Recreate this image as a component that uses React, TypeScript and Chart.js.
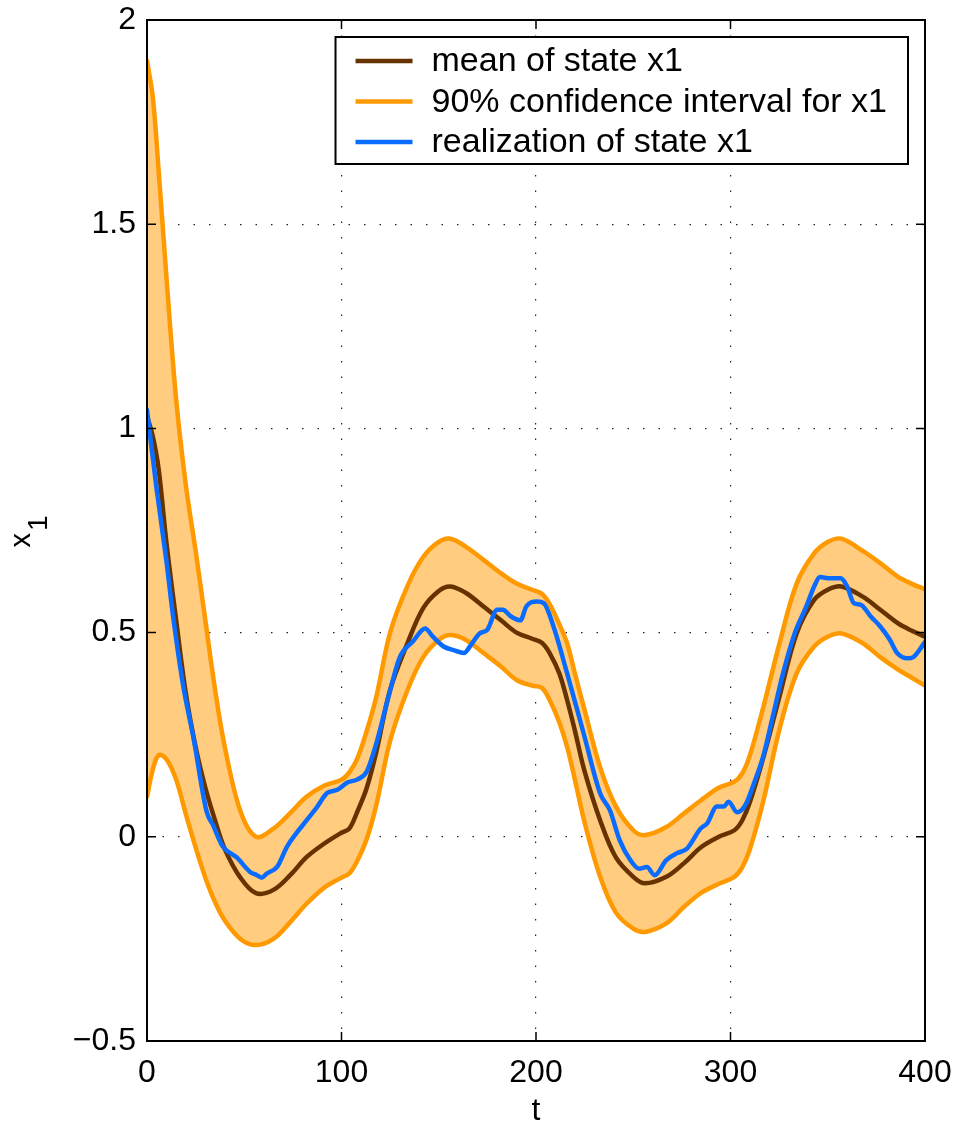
import React, { useEffect, useRef } from "react";
import { Chart, registerables } from "chart.js";

Chart.register(...registerables);

// time grid for mean and confidence band
const T_BAND = [
  0, 3, 6, 10, 15, 20, 25, 30, 35, 40,
  48, 56, 65, 74, 82, 91, 100, 104, 108, 113,
  118, 125, 134, 142, 150, 156, 164, 173, 182, 190,
  198, 203, 207, 212, 216, 220, 225, 233, 241, 250,
  256, 267, 276, 285, 294, 302, 306, 310, 317, 325,
  334, 343, 350, 357, 368, 377, 386, 393, 400,
];

const UPPER = [
  1.9, 1.81, 1.63, 1.37, 1.07, 0.86, 0.7, 0.53, 0.36, 0.22,
  0.063, 0.0, 0.02, 0.06, 0.098, 0.125, 0.14, 0.158, 0.19, 0.26,
  0.345, 0.5, 0.615, 0.685, 0.722, 0.73, 0.71, 0.678, 0.645, 0.62,
  0.605, 0.595, 0.57, 0.52, 0.474, 0.4, 0.31, 0.17, 0.075, 0.016,
  0.004, 0.024, 0.057, 0.09, 0.12, 0.135, 0.155, 0.2, 0.32, 0.47,
  0.62, 0.694, 0.722, 0.73, 0.7, 0.67, 0.637, 0.62, 0.606,
];

const MEAN = [
  1.03, 0.98, 0.9, 0.72, 0.53, 0.35, 0.22, 0.12, 0.04, -0.03,
  -0.1, -0.138, -0.13, -0.092, -0.05, -0.017, 0.01, 0.02, 0.06, 0.12,
  0.21, 0.36, 0.475, 0.56, 0.602, 0.613, 0.597, 0.564, 0.53, 0.5,
  0.485, 0.475, 0.45, 0.4, 0.335, 0.26, 0.16, 0.04, -0.05, -0.098,
  -0.114, -0.098, -0.065, -0.025, 0.0, 0.016, 0.04, 0.085, 0.196, 0.34,
  0.498, 0.58, 0.605, 0.613, 0.588, 0.556, 0.523, 0.505, 0.49,
];

const LOWER = [
  0.098, 0.165, 0.2, 0.19, 0.14, 0.055, -0.026, -0.1, -0.16, -0.205,
  -0.25, -0.265, -0.25, -0.207, -0.164, -0.125, -0.1, -0.09, -0.06, -0.005,
  0.08, 0.235, 0.36, 0.44, 0.482, 0.494, 0.482, 0.45, 0.417, 0.384,
  0.37, 0.365, 0.335, 0.28, 0.22, 0.14, 0.035, -0.098, -0.185, -0.225,
  -0.233, -0.212, -0.172, -0.137, -0.115, -0.098, -0.075, -0.03, 0.09, 0.26,
  0.4, 0.466, 0.49, 0.498, 0.474, 0.44, 0.41, 0.39, 0.37,
];

// realization of the state
const T_REAL = [
  0, 5, 10, 13.4, 18.6, 24, 30.6, 34, 39, 46,
  53, 56.5, 59, 61.6, 67, 72, 77, 82, 87, 92.6,
  97.8, 103, 108, 113, 118, 124, 130, 137, 143, 147,
  152.5, 157.7, 163, 166, 171, 175, 180, 183, 187, 192,
  195, 200.5, 204, 209, 216, 224.5, 233, 238, 243, 248.5,
  253, 257, 261, 267, 272.5, 277.6, 284.6, 288, 293, 296.6,
  299, 303.4, 307.7, 312, 317, 322, 327, 333, 339, 343,
  346, 351, 356.6, 360, 363.4, 367, 372, 377, 382, 385.7,
  391, 394, 400,
];

const REAL = [
  1.045, 0.85, 0.675, 0.54, 0.37, 0.24, 0.063, 0.028, -0.024, -0.05,
  -0.086, -0.094, -0.1, -0.09, -0.073, -0.024, 0.01, 0.04, 0.07, 0.107,
  0.115, 0.133, 0.14, 0.16, 0.23, 0.34, 0.44, 0.48, 0.51, 0.49,
  0.466, 0.457, 0.45, 0.466, 0.498, 0.507, 0.556, 0.556, 0.54, 0.53,
  0.564, 0.576, 0.572, 0.515, 0.4, 0.253, 0.106, 0.065, -0.008, -0.057,
  -0.078, -0.074, -0.094, -0.057, -0.04, -0.029, 0.02, 0.033, 0.074, 0.074,
  0.086, 0.06, 0.078, 0.13, 0.2, 0.3, 0.4, 0.498, 0.564, 0.613,
  0.636, 0.633, 0.633, 0.613, 0.572, 0.568, 0.54, 0.515, 0.482, 0.45,
  0.437, 0.44, 0.477,
];

const LEGEND_LABELS = [
  "mean of state x1",
  "90% confidence interval for x1",
  "realization of state x1",
];

const X_TICKS = [0, 100, 200, 300, 400];
const Y_TICKS = [-0.5, 0, 0.5, 1, 1.5, 2];
const X_TITLE = "t";
const Y_TITLE_MAIN = "x";
const Y_TITLE_SUB = "1";

const BROWN = "#663300";
const ORANGE = "#FF9900";
const FILL = "#FFCC80";
const BLUE = "#0A6CFF";
const FONT_FAMILY = '"Liberation Sans", Arial, Helvetica, sans-serif';

const toXY = (ts: number[], ys: number[]) => ts.map((t, i) => ({ x: t, y: ys[i] }));

const framePlugin = {
  id: "matlabFrame",
  afterDatasetsDraw(chart: any) {
    const { ctx, chartArea: a, scales } = chart;
    ctx.save();
    // inner tick marks
    ctx.strokeStyle = "#000";
    ctx.lineWidth = 1.5;
    const L = 9;
    scales.x.ticks.forEach((_t: any, i: number) => {
      const px = scales.x.getPixelForTick(i);
      ctx.beginPath();
      ctx.moveTo(px, a.bottom);
      ctx.lineTo(px, a.bottom - L);
      ctx.moveTo(px, a.top);
      ctx.lineTo(px, a.top + L);
      ctx.stroke();
    });
    scales.y.ticks.forEach((_t: any, i: number) => {
      const py = scales.y.getPixelForTick(i);
      ctx.beginPath();
      ctx.moveTo(a.left, py);
      ctx.lineTo(a.left + L, py);
      ctx.moveTo(a.right, py);
      ctx.lineTo(a.right - L, py);
      ctx.stroke();
    });
    // frame
    ctx.lineWidth = 2;
    ctx.strokeRect(a.left, a.top, a.right - a.left, a.bottom - a.top);

    // legend
    const entries = chart.data.datasets.filter((d: any) => d.legendText);
    ctx.font = `34px ${FONT_FAMILY}`;
    let maxW = 0;
    entries.forEach((d: any) => {
      maxW = Math.max(maxW, ctx.measureText(d.legendText).width);
    });
    const boxW = 96 + maxW + 21;
    const boxH = 127;
    const bx = a.right - 17 - boxW;
    const by = a.top + 17;
    ctx.fillStyle = "#fff";
    ctx.fillRect(bx, by, boxW, boxH);
    ctx.strokeStyle = "#000";
    ctx.lineWidth = 2;
    ctx.strokeRect(bx, by, boxW, boxH);
    entries.forEach((d: any, i: number) => {
      const ry = by + 24 + i * 40.5;
      ctx.strokeStyle = d.borderColor;
      ctx.lineWidth = 4.5;
      ctx.beginPath();
      ctx.moveTo(bx + 20, ry);
      ctx.lineTo(bx + 77, ry);
      ctx.stroke();
      ctx.fillStyle = "#000";
      ctx.textBaseline = "middle";
      ctx.textAlign = "left";
      ctx.fillText(d.legendText, bx + 96, ry + 1);
    });

    // y-axis title with subscript (rotated)
    const cy = (a.top + a.bottom) / 2;
    ctx.translate(30, cy + 17);
    ctx.rotate(-Math.PI / 2);
    ctx.fillStyle = "#000";
    ctx.textAlign = "left";
    ctx.textBaseline = "alphabetic";
    ctx.font = `29px ${FONT_FAMILY}`;
    ctx.fillText(Y_TITLE_MAIN, 0, 0);
    const w = ctx.measureText(Y_TITLE_MAIN).width;
    ctx.font = `28px ${FONT_FAMILY}`;
    ctx.fillText(Y_TITLE_SUB, w + 2, 17);
    ctx.restore();
  },
};

export default function App() {
  const canvasRef = useRef<HTMLCanvasElement | null>(null);

  useEffect(() => {
    const canvas = canvasRef.current;
    if (!canvas) return;
    const lineCommon = {
      pointRadius: 0,
      pointHoverRadius: 0,
      borderWidth: 4.5,
      tension: 0.35,
      borderCapStyle: "round" as const,
      borderJoinStyle: "round" as const,
    };
    const chart = new Chart(canvas, {
      type: "line",
      data: {
        datasets: [
          {
            ...lineCommon,
            label: "mean",
            legendText: LEGEND_LABELS[0],
            data: toXY(T_BAND, MEAN),
            borderColor: BROWN,
            fill: false,
            order: 1,
          } as any,
          {
            ...lineCommon,
            label: "upper",
            legendText: LEGEND_LABELS[1],
            data: toXY(T_BAND, UPPER),
            borderColor: ORANGE,
            backgroundColor: FILL,
            fill: "+1",
            order: 2,
          } as any,
          {
            ...lineCommon,
            label: "lower",
            data: toXY(T_BAND, LOWER),
            borderColor: ORANGE,
            fill: false,
            order: 3,
          } as any,
          {
            ...lineCommon,
            tension: 0,
            cubicInterpolationMode: "monotone",
            label: "realization",
            legendText: LEGEND_LABELS[2],
            data: toXY(T_REAL, REAL),
            borderColor: BLUE,
            fill: false,
            order: 0,
          } as any,
        ],
      },
      options: {
        responsive: false,
        animation: false,
        events: [],
        layout: { padding: { top: 20, right: 32, left: 0, bottom: 0 } },
        plugins: {
          legend: { display: false },
          tooltip: { enabled: false },
          filler: { drawTime: "beforeDatasetsDraw" } as any,
        },
        scales: {
          x: {
            type: "linear",
            min: 0,
            max: 400,
            afterBuildTicks: (s: any) => {
              s.ticks = X_TICKS.map((v) => ({ value: v }));
            },
            afterFit: (s: any) => {
              s.height = 86;
              s.paddingLeft = 0;
              s.paddingRight = 0;
            },
            ticks: {
              color: "#000",
              font: { family: FONT_FAMILY, size: 32 },
              padding: 13,
              maxRotation: 0,
            },
            grid: {
              color: "#222",
              lineWidth: 1.2,
              drawTicks: false,
            } as any,
            border: { display: false, dash: [1.5, 14] },
            title: {
              display: true,
              text: X_TITLE,
              color: "#000",
              font: { family: FONT_FAMILY, size: 32, lineHeight: 1 },
              padding: { top: 0, bottom: 0 },
            },
          },
          y: {
            type: "linear",
            min: -0.5,
            max: 2,
            afterBuildTicks: (s: any) => {
              s.ticks = Y_TICKS.map((v) => ({ value: v }));
            },
            afterFit: (s: any) => {
              s.width = 147;
              s.paddingTop = 0;
              s.paddingBottom = 0;
            },
            ticks: {
              color: "#000",
              font: { family: FONT_FAMILY, size: 32 },
              padding: 11,
              callback: (v: any) => (Number(v) < 0 ? "\u2212" + Math.abs(Number(v)) : String(v)),
            },
            grid: {
              color: "#222",
              lineWidth: 1.2,
              drawTicks: false,
            } as any,
            border: { display: false, dash: [1.5, 14] },
            title: { display: false },
          },
        },
      },
      plugins: [framePlugin],
    });
    return () => chart.destroy();
  }, []);

  return (
    <div style={{ position: "absolute", left: 0, top: 0, width: 957, height: 1127, background: "#fff" }}>
      <canvas ref={canvasRef} width={957} height={1127} style={{ display: "block" }} />
    </div>
  );
}
